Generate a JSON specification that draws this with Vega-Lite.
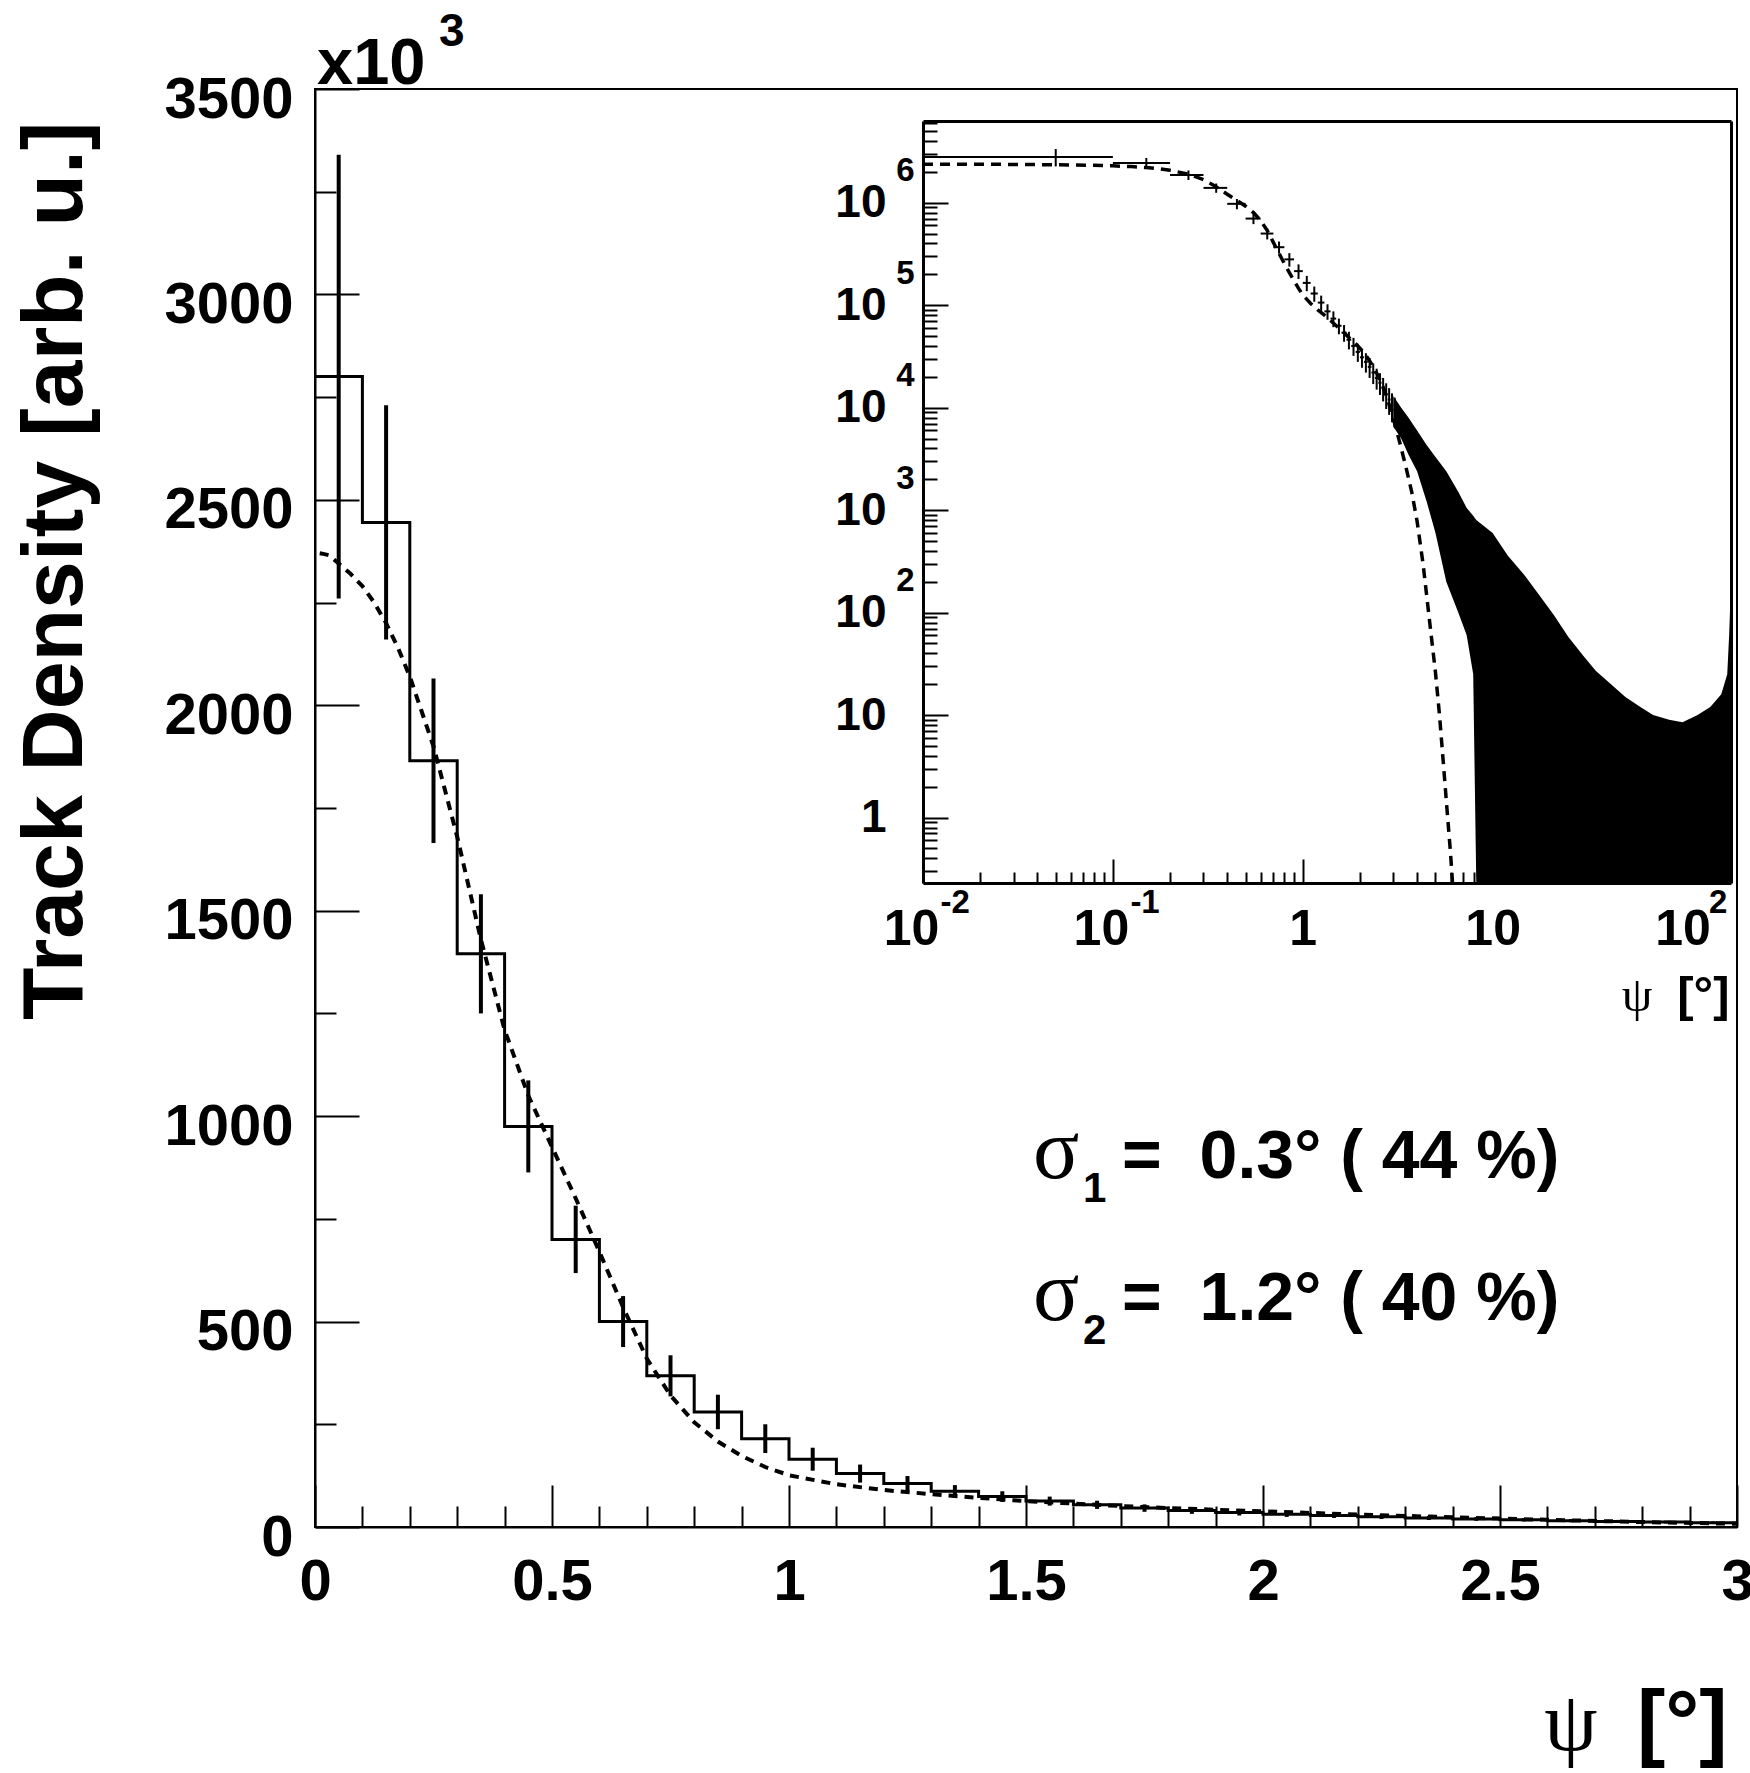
{
  "$schema": "https://vega.github.io/schema/vega-lite/v6.json",
  "width": 1422,
  "height": 1438,
  "autosize": {"type": "none"},
  "padding": {"left": 315, "top": 89, "right": 13, "bottom": 246},
  "background": "white",
  "config": {
    "view": {"stroke": "black", "strokeWidth": 2},
    "axis": {
      "grid": false,
      "domainColor": "black",
      "tickColor": "black",
      "labelColor": "black",
      "titleColor": "black",
      "labelFont": "Liberation Sans",
      "labelFontWeight": "bold",
      "titleFont": "Liberation Sans",
      "titleFontWeight": "bold",
      "tickWidth": 2,
      "domainWidth": 2,
      "labelFlush": false,
      "labelOverlap": false
    }
  },
  "datasets": {
    "hist": [
      {"psi_lo": 0.0, "psi_hi": 0.1, "psi": 0.05, "v": 2800000, "err": 540000},
      {"psi_lo": 0.1, "psi_hi": 0.2, "psi": 0.15, "v": 2445000, "err": 285000},
      {"psi_lo": 0.2, "psi_hi": 0.3, "psi": 0.25, "v": 1865000, "err": 200000},
      {"psi_lo": 0.3, "psi_hi": 0.4, "psi": 0.35, "v": 1395000, "err": 145000},
      {"psi_lo": 0.4, "psi_hi": 0.5, "psi": 0.45, "v": 975000, "err": 112000},
      {"psi_lo": 0.5, "psi_hi": 0.6, "psi": 0.55, "v": 700000, "err": 82000},
      {"psi_lo": 0.6, "psi_hi": 0.7, "psi": 0.65, "v": 500000, "err": 62000},
      {"psi_lo": 0.7, "psi_hi": 0.8, "psi": 0.75, "v": 368000, "err": 50000},
      {"psi_lo": 0.8, "psi_hi": 0.9, "psi": 0.85, "v": 280000, "err": 42000},
      {"psi_lo": 0.9, "psi_hi": 1.0, "psi": 0.95, "v": 215000, "err": 35000},
      {"psi_lo": 1.0, "psi_hi": 1.1, "psi": 1.05, "v": 165000, "err": 28000},
      {"psi_lo": 1.1, "psi_hi": 1.2, "psi": 1.15, "v": 130000, "err": 22000},
      {"psi_lo": 1.2, "psi_hi": 1.3, "psi": 1.25, "v": 106000, "err": 18000},
      {"psi_lo": 1.3, "psi_hi": 1.4, "psi": 1.35, "v": 87000, "err": 15000},
      {"psi_lo": 1.4, "psi_hi": 1.5, "psi": 1.45, "v": 74000, "err": 13000},
      {"psi_lo": 1.5, "psi_hi": 1.6, "psi": 1.55, "v": 63000, "err": 11000},
      {"psi_lo": 1.6, "psi_hi": 1.7, "psi": 1.65, "v": 54000, "err": 10000},
      {"psi_lo": 1.7, "psi_hi": 1.8, "psi": 1.75, "v": 46000, "err": 9000},
      {"psi_lo": 1.8, "psi_hi": 1.9, "psi": 1.85, "v": 40000, "err": 8000},
      {"psi_lo": 1.9, "psi_hi": 2.0, "psi": 1.95, "v": 35000, "err": 7000},
      {"psi_lo": 2.0, "psi_hi": 2.1, "psi": 2.05, "v": 31000, "err": 6500},
      {"psi_lo": 2.1, "psi_hi": 2.2, "psi": 2.15, "v": 28000, "err": 6000},
      {"psi_lo": 2.2, "psi_hi": 2.3, "psi": 2.25, "v": 25000, "err": 5500},
      {"psi_lo": 2.3, "psi_hi": 2.4, "psi": 2.35, "v": 22000, "err": 5000},
      {"psi_lo": 2.4, "psi_hi": 2.5, "psi": 2.45, "v": 19500, "err": 4500},
      {"psi_lo": 2.5, "psi_hi": 2.6, "psi": 2.55, "v": 17500, "err": 4200},
      {"psi_lo": 2.6, "psi_hi": 2.7, "psi": 2.65, "v": 15500, "err": 4000},
      {"psi_lo": 2.7, "psi_hi": 2.8, "psi": 2.75, "v": 13500, "err": 3800},
      {"psi_lo": 2.8, "psi_hi": 2.9, "psi": 2.85, "v": 12000, "err": 3500},
      {"psi_lo": 2.9, "psi_hi": 3.0, "psi": 2.95, "v": 10500, "err": 3300},
      {"psi_lo": 3.0, "psi_hi": 3.1, "psi": 3.05, "v": 9500, "err": 3000}
    ],
    "fit": [
      {"psi": 0.01, "f": 2370000},
      {"psi": 0.02, "f": 2368000},
      {"psi": 0.03, "f": 2365000},
      {"psi": 0.05, "f": 2345000},
      {"psi": 0.075, "f": 2320000},
      {"psi": 0.1, "f": 2290000},
      {"psi": 0.125, "f": 2250000},
      {"psi": 0.15, "f": 2200000},
      {"psi": 0.175, "f": 2140000},
      {"psi": 0.2, "f": 2070000},
      {"psi": 0.25, "f": 1900000},
      {"psi": 0.3, "f": 1680000},
      {"psi": 0.35, "f": 1430000},
      {"psi": 0.4, "f": 1210000},
      {"psi": 0.45, "f": 1050000},
      {"psi": 0.5, "f": 925000},
      {"psi": 0.55, "f": 800000},
      {"psi": 0.6, "f": 670000},
      {"psi": 0.65, "f": 535000},
      {"psi": 0.7, "f": 410000},
      {"psi": 0.75, "f": 320000},
      {"psi": 0.8, "f": 255000},
      {"psi": 0.85, "f": 208000},
      {"psi": 0.9, "f": 173000},
      {"psi": 0.95, "f": 146000},
      {"psi": 1.0, "f": 126000},
      {"psi": 1.1, "f": 104000},
      {"psi": 1.2, "f": 90000},
      {"psi": 1.3, "f": 80000},
      {"psi": 1.4, "f": 71000},
      {"psi": 1.5, "f": 63000},
      {"psi": 1.6, "f": 57000},
      {"psi": 1.7, "f": 51000},
      {"psi": 1.8, "f": 46000},
      {"psi": 1.9, "f": 42000},
      {"psi": 2.0, "f": 38000},
      {"psi": 2.2, "f": 30500},
      {"psi": 2.4, "f": 23500},
      {"psi": 2.6, "f": 17500},
      {"psi": 2.8, "f": 12000},
      {"psi": 3.0, "f": 7800},
      {"psi": 3.25, "f": 4500},
      {"psi": 3.5, "f": 2600},
      {"psi": 3.75, "f": 1500},
      {"psi": 4.0, "f": 780},
      {"psi": 4.3, "f": 300},
      {"psi": 4.6, "f": 100},
      {"psi": 5.0, "f": 26},
      {"psi": 5.25, "f": 10},
      {"psi": 5.5, "f": 3.4},
      {"psi": 5.75, "f": 1.2},
      {"psi": 6.0, "f": 0.45},
      {"psi": 6.15, "f": 0.22}
    ],
    "band": [
      {"psi": 3.0, "lo": 6500, "hi": 13000},
      {"psi": 3.3, "lo": 5000, "hi": 10000},
      {"psi": 3.6, "lo": 3500, "hi": 8000},
      {"psi": 4.0, "lo": 2400, "hi": 6000},
      {"psi": 4.5, "lo": 1200, "hi": 4300},
      {"psi": 5.0, "lo": 600, "hi": 3300},
      {"psi": 5.7, "lo": 200, "hi": 2400},
      {"psi": 6.6, "lo": 100, "hi": 1500},
      {"psi": 7.3, "lo": 60, "hi": 1050},
      {"psi": 7.9, "lo": 25, "hi": 880},
      {"psi": 8.2, "lo": 0.1, "hi": 800},
      {"psi": 10, "lo": 0.1, "hi": 600},
      {"psi": 12, "lo": 0.1, "hi": 360},
      {"psi": 14.5, "lo": 0.1, "hi": 240},
      {"psi": 17.5, "lo": 0.1, "hi": 150},
      {"psi": 21, "lo": 0.1, "hi": 95},
      {"psi": 25, "lo": 0.1, "hi": 58},
      {"psi": 30, "lo": 0.1, "hi": 38},
      {"psi": 35, "lo": 0.1, "hi": 27},
      {"psi": 42, "lo": 0.1, "hi": 20},
      {"psi": 50, "lo": 0.1, "hi": 15},
      {"psi": 60, "lo": 0.1, "hi": 12},
      {"psi": 70, "lo": 0.1, "hi": 10},
      {"psi": 85, "lo": 0.1, "hi": 9},
      {"psi": 100, "lo": 0.1, "hi": 8.5},
      {"psi": 120, "lo": 0.1, "hi": 10},
      {"psi": 140, "lo": 0.1, "hi": 12},
      {"psi": 160, "lo": 0.1, "hi": 16},
      {"psi": 172, "lo": 0.1, "hi": 25},
      {"psi": 176, "lo": 0.1, "hi": 60},
      {"psi": 178, "lo": 0.1, "hi": 110},
      {"psi": 180, "lo": 0.1, "hi": 110}
    ],
    "notes": [{"psi": 0, "v": 3500000}],
    "sigmas": [
      {"psi": 1.515, "v": 849000, "sub": "1", "rest": "=\u00a0\u00a00.3°\u00a0(\u00a044\u00a0%)"},
      {"psi": 1.515, "v": 504000, "sub": "2", "rest": "=\u00a0\u00a01.2°\u00a0(\u00a040\u00a0%)"}
    ]
  },
  "resolve": {
    "scale": {"x": "independent", "y": "independent"},
    "axis": {"x": "independent", "y": "independent"}
  },
  "layer": [
    {
      "data": {"name": "hist"},
      "mark": {"type": "line", "interpolate": "step-after", "color": "black", "strokeWidth": 3, "clip": true},
      "encoding": {
        "x": {
          "field": "psi_lo", "type": "quantitative",
          "scale": {"domain": [0, 3], "nice": false, "zero": false},
          "axis": {
            "orient": "bottom", "values": [0, 0.5, 1, 1.5, 2, 2.5, 3], "format": "~g",
            "tickSize": -42, "labelFontSize": 58, "labelPadding": 68, "labelBaseline": "top",
            "title": "[°]", "titleFontSize": 85, "titleX": 1412, "titleY": 222,
            "titleAlign": "right", "titleAnchor": "end", "titleBaseline": "alphabetic", "titleAngle": 0
          }
        },
        "y": {
          "field": "v", "type": "quantitative",
          "scale": {"domain": [0, 3500000], "nice": false},
          "axis": {
            "orient": "left",
            "values": [0, 500000, 1000000, 1500000, 2000000, 2500000, 3000000, 3500000],
            "labelExpr": "format(datum.value / 1000, 'd')",
            "tickSize": -44, "labelFontSize": 58, "labelPadding": 66, "labelOffset": 11, "labelBaseline": "middle",
            "title": "Track Density [arb. u.]", "titleFontSize": 86, "titleX": -234, "titleY": 32,
            "titleAngle": 270, "titleAlign": "right", "titleAnchor": "end", "titleBaseline": "alphabetic"
          }
        }
      }
    },
    {
      "data": {"name": "hist"},
      "mark": {"type": "errorbar", "ticks": false, "thickness": 4, "color": "black"},
      "encoding": {
        "x": {
          "field": "psi", "type": "quantitative",
          "scale": {"domain": [0, 3], "nice": false, "zero": false},
          "axis": {
            "orient": "bottom",
            "values": [0.1, 0.2, 0.3, 0.4, 0.6, 0.7, 0.8, 0.9, 1.1, 1.2, 1.3, 1.4, 1.6, 1.7, 1.8, 1.9, 2.1, 2.2, 2.3, 2.4, 2.6, 2.7, 2.8, 2.9],
            "tickSize": -21, "labels": false, "domain": false,
            "title": "ψ", "titleFont": "Liberation Serif", "titleFontWeight": "normal", "titleFontSize": 85,
            "titleX": 1282, "titleY": 222, "titleAlign": "right", "titleAnchor": "end",
            "titleBaseline": "alphabetic", "titleAngle": 0
          }
        },
        "y": {
          "field": "v", "type": "quantitative",
          "scale": {"domain": [0, 3500000], "nice": false},
          "axis": {
            "orient": "left",
            "values": [250000, 750000, 1250000, 1750000, 2250000, 2750000, 3250000],
            "tickSize": -21, "labels": false, "domain": false, "title": null
          }
        },
        "yError": {"field": "err"}
      }
    },
    {
      "data": {"name": "fit"},
      "mark": {"type": "line", "color": "black", "strokeWidth": 4, "strokeDash": [9, 7], "clip": true},
      "encoding": {
        "x": {"field": "psi", "type": "quantitative", "scale": {"domain": [0, 3], "nice": false, "zero": false}, "axis": null},
        "y": {"field": "f", "type": "quantitative", "scale": {"domain": [0, 3500000], "nice": false}, "axis": null}
      }
    },
    {
      "data": {"name": "notes"},
      "mark": {"type": "text", "text": "x10", "align": "left", "baseline": "alphabetic", "dx": 2, "dy": -5, "font": "Liberation Sans", "fontWeight": "bold", "fontSize": 65, "color": "black"},
      "encoding": {
        "x": {"field": "psi", "type": "quantitative", "scale": {"domain": [0, 3], "nice": false, "zero": false}, "axis": null},
        "y": {"field": "v", "type": "quantitative", "scale": {"domain": [0, 3500000], "nice": false}, "axis": null}
      }
    },
    {
      "data": {"name": "notes"},
      "mark": {"type": "text", "text": "3", "align": "left", "baseline": "alphabetic", "dx": 124, "dy": -43, "font": "Liberation Sans", "fontWeight": "bold", "fontSize": 46, "color": "black"},
      "encoding": {
        "x": {"field": "psi", "type": "quantitative", "scale": {"domain": [0, 3], "nice": false, "zero": false}, "axis": null},
        "y": {"field": "v", "type": "quantitative", "scale": {"domain": [0, 3500000], "nice": false}, "axis": null}
      }
    },
    {
      "data": {"name": "sigmas"},
      "mark": {"type": "text", "text": "σ", "align": "left", "baseline": "alphabetic", "font": "Liberation Serif", "fontSize": 86, "color": "black"},
      "encoding": {
        "x": {"field": "psi", "type": "quantitative", "scale": {"domain": [0, 3], "nice": false, "zero": false}, "axis": null},
        "y": {"field": "v", "type": "quantitative", "scale": {"domain": [0, 3500000], "nice": false}, "axis": null}
      }
    },
    {
      "data": {"name": "sigmas"},
      "mark": {"type": "text", "align": "left", "baseline": "alphabetic", "dx": 50, "dy": 24, "font": "Liberation Sans", "fontWeight": "bold", "fontSize": 42, "color": "black"},
      "encoding": {
        "x": {"field": "psi", "type": "quantitative", "scale": {"domain": [0, 3], "nice": false, "zero": false}, "axis": null},
        "y": {"field": "v", "type": "quantitative", "scale": {"domain": [0, 3500000], "nice": false}, "axis": null},
        "text": {"field": "sub"}
      }
    },
    {
      "data": {"name": "sigmas"},
      "mark": {"type": "text", "align": "left", "baseline": "alphabetic", "dx": 89, "font": "Liberation Sans", "fontWeight": "bold", "fontSize": 68, "color": "black"},
      "encoding": {
        "x": {"field": "psi", "type": "quantitative", "scale": {"domain": [0, 3], "nice": false, "zero": false}, "axis": null},
        "y": {"field": "v", "type": "quantitative", "scale": {"domain": [0, 3500000], "nice": false}, "axis": null},
        "text": {"field": "rest"}
      }
    },
    {
      "data": {"name": "hist"},
      "mark": {"type": "rule", "color": "black", "strokeWidth": 2},
      "encoding": {
        "x": {
          "field": "psi_lo", "type": "quantitative",
          "scale": {"type": "log", "domain": [0.01, 180], "range": [608, 1416], "nice": false, "clamp": true},
          "axis": {
            "orient": "bottom", "offset": -644, "values": [0.01, 0.1, 1, 10, 100],
            "labelExpr": "datum.value == 1 ? '1' : '10'",
            "tickSize": -24, "domainWidth": 3, "labelFontSize": 50, "labelPadding": 45, "labelBaseline": "top",
            "labelOffset": {"condition": {"test": "datum.value < 0.5", "value": -12}, "value": 0},
            "title": "[°]", "titleFontSize": 49, "titleX": 1414, "titleY": 127,
            "titleAlign": "right", "titleAnchor": "end", "titleBaseline": "alphabetic", "titleAngle": 0
          }
        },
        "x2": {"field": "psi_hi"},
        "y": {
          "field": "v", "type": "quantitative",
          "scale": {"type": "log", "domain": [0.23, 6270000], "range": [794, 32], "nice": false, "clamp": true},
          "axis": {
            "orient": "left", "offset": -608,
            "values": [1, 10, 100, 1000, 10000, 100000, 1000000],
            "labelExpr": "datum.value == 1 ? '1' : '10'",
            "tickSize": -25, "domainWidth": 3, "labelFontSize": 46, "labelPadding": 62, "labelBaseline": "middle",
            "title": null
          }
        }
      }
    },
    {
      "data": {"name": "hist"},
      "mark": {"type": "errorbar", "ticks": false, "thickness": 2, "color": "black"},
      "encoding": {
        "x": {
          "field": "psi", "type": "quantitative",
          "scale": {"type": "log", "domain": [0.01, 180], "range": [608, 1416], "nice": false, "clamp": true},
          "axis": {
            "orient": "bottom", "offset": -644, "values": [0.01, 0.1, 100],
            "labelExpr": "datum.value < 0.05 ? '-2' : datum.value < 0.5 ? '-1' : '2'",
            "ticks": false, "domain": false, "labelFontSize": 33, "labelPadding": 3, "labelBaseline": "top",
            "labelAlign": "left",
            "labelOffset": {"condition": {"test": "datum.value > 50", "value": 26}, "value": 17},
            "title": "ψ", "titleFont": "Liberation Serif", "titleFontWeight": "normal", "titleFontSize": 49,
            "titleX": 1337, "titleY": 127, "titleAlign": "right", "titleAnchor": "end",
            "titleBaseline": "alphabetic", "titleAngle": 0
          }
        },
        "y": {
          "field": "v", "type": "quantitative",
          "scale": {"type": "log", "domain": [0.23, 6270000], "range": [794, 32], "nice": false, "clamp": true},
          "axis": {
            "orient": "left", "offset": -608,
            "values": [100, 1000, 10000, 100000, 1000000],
            "labelExpr": "format(round(log(datum.value) / LN10), 'd')",
            "ticks": false, "domain": false, "labelFontSize": 33, "labelPadding": 9, "labelOffset": -32,
            "labelBaseline": "middle", "title": null
          }
        },
        "yError": {"field": "err"}
      }
    },
    {
      "data": {"name": "band"},
      "mark": {"type": "area", "color": "black", "opacity": 1},
      "encoding": {
        "x": {
          "field": "psi", "type": "quantitative",
          "scale": {"type": "log", "domain": [0.01, 180], "range": [608, 1416], "nice": false, "clamp": true},
          "axis": {
            "orient": "bottom", "offset": -644,
            "values": [0.02, 0.03, 0.04, 0.05, 0.06, 0.07, 0.08, 0.09, 0.2, 0.3, 0.4, 0.5, 0.6, 0.7, 0.8, 0.9, 2, 3, 4, 5, 6, 7, 8, 9, 20, 30, 40, 50, 60, 70, 80, 90],
            "tickSize": -11, "labels": false, "domain": false, "title": null
          }
        },
        "y": {
          "field": "lo", "type": "quantitative",
          "scale": {"type": "log", "domain": [0.23, 6270000], "range": [794, 32], "nice": false, "clamp": true},
          "axis": {
            "orient": "left", "offset": -608,
            "values": [0.3, 0.4, 0.5, 0.6, 0.7, 0.8, 0.9, 2, 3, 4, 5, 6, 7, 8, 9, 20, 30, 40, 50, 60, 70, 80, 90, 200, 300, 400, 500, 600, 700, 800, 900, 2000, 3000, 4000, 5000, 6000, 7000, 8000, 9000, 20000, 30000, 40000, 50000, 60000, 70000, 80000, 90000, 200000, 300000, 400000, 500000, 600000, 700000, 800000, 900000, 2000000, 3000000, 4000000, 5000000, 6000000],
            "tickSize": -14, "labels": false, "domain": false, "title": null
          }
        },
        "y2": {"field": "hi"}
      }
    },
    {
      "data": {"name": "fit"},
      "mark": {"type": "line", "color": "black", "strokeWidth": 3.5, "strokeDash": [10, 7]},
      "encoding": {
        "x": {
          "field": "psi", "type": "quantitative",
          "scale": {"type": "log", "domain": [0.01, 180], "range": [608, 1416], "nice": false, "clamp": true},
          "axis": {"orient": "top", "offset": -32, "ticks": false, "labels": false, "domainWidth": 3, "title": null}
        },
        "y": {
          "field": "f", "type": "quantitative",
          "scale": {"type": "log", "domain": [0.23, 6270000], "range": [794, 32], "nice": false, "clamp": true},
          "axis": {"orient": "right", "offset": -6, "ticks": false, "labels": false, "domainWidth": 3, "title": null}
        }
      }
    }
  ]
}
